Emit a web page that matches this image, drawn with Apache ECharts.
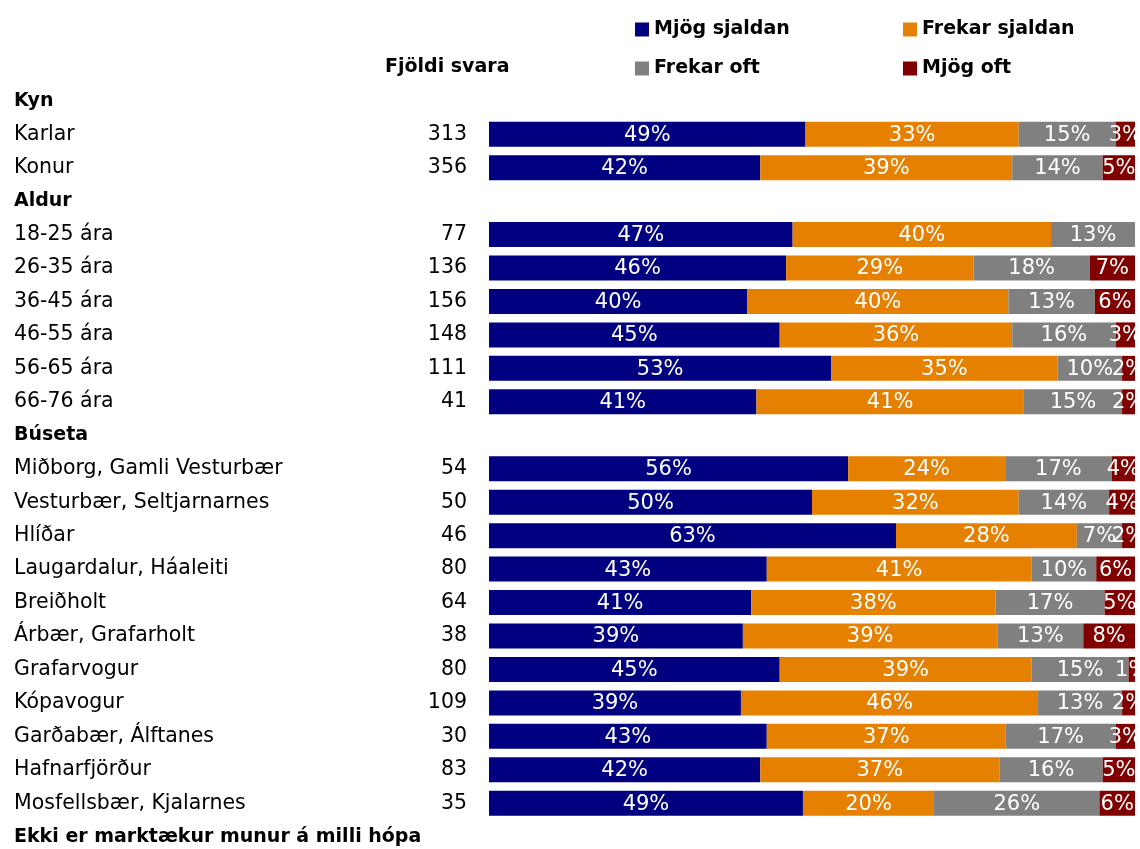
<!DOCTYPE html>
<html>
<head>
<meta charset="utf-8">
<script src="https://cdn.jsdelivr.net/npm/echarts@6/dist/echarts.min.js"></script>
<style>
  html, body { margin: 0; padding: 0; background: #fff; }
  #chart { width: 1140px; height: 849px; }
</style>
</head>
<body>
<div id="chart"></div>
<script>
/* data */
var categories = ['Kyn', 'Karlar', 'Konur', 'Aldur', '18-25 ára', '26-35 ára', '36-45 ára', '46-55 ára',
  '56-65 ára', '66-76 ára', 'Búseta', 'Miðborg, Gamli Vesturbær', 'Vesturbær, Seltjarnarnes', 'Hlíðar',
  'Laugardalur, Háaleiti', 'Breiðholt', 'Árbær, Grafarholt', 'Grafarvogur', 'Kópavogur',
  'Garðabær, Álftanes', 'Hafnarfjörður', 'Mosfellsbær, Kjalarnes'];
var headers = ['Kyn', 'Aldur', 'Búseta'];
var counts = [null, 313, 356, null, 77, 136, 156, 148, 111, 41, null, 54, 50, 46, 80, 64, 38, 80, 109, 30, 83, 35];

var mjogSjaldan   = [null, 49, 42, null, 47, 46, 40.0, 45, 53, 41.4, null, 55.6, 50, 63, 43, 40.6, 39.3, 45, 39, 43, 42, 48.6];
var frekarSjaldan = [null, 33, 39, null, 40, 29, 40.4, 36, 35, 41.4, null, 24.3, 32, 28, 41, 37.8, 39.4, 39, 46, 37, 37, 20.3];
var frekarOft     = [null, 15, 14, null, 13, 18, 13.4, 16, 10, 15.2, null, 16.5, 14, 7, 10, 16.9, 13.3, 15, 13, 17, 16, 25.6];
var mjogOft       = [null, 3, 5, null, null, 7, 6.2, 3, 2, 2.0, null, 3.6, 4, 2, 6, 4.7, 8.0, 1, 2, 3, 5, 5.5];

var seriesNames = ['Mjög sjaldan', 'Frekar sjaldan', 'Frekar oft', 'Mjög oft'];
var seriesColors = ['#000080', '#e68000', '#808080', '#800000'];
var seriesData = [mjogSjaldan, frekarSjaldan, frekarOft, mjogOft];

var FONT = 'DejaVu Sans';

var series = seriesData.map(function (d, i) {
  return {
    name: seriesNames[i],
    type: 'bar',
    stack: 'total',
    barWidth: 25,
    data: d,
    itemStyle: { color: seriesColors[i] },
    label: {
      show: true,
      position: 'inside',
      offset: [0, 1],
      color: '#fff',
      fontFamily: FONT,
      fontSize: 21,
      formatter: function (p) { return p.value == null ? '' : Math.round(p.value) + '%'; }
    },
    emphasis: { disabled: true }
  };
});

var boldText = { fontFamily: FONT, fontSize: 19, fontWeight: 'bold', color: '#000' };

var option = {
  animation: false,
  textStyle: { fontFamily: FONT },
  title: [{
    text: 'Fjöldi svara',
    left: 385, top: 58, padding: 0,
    textStyle: boldText
  }, {
    text: 'Ekki er marktækur munur á milli hópa',
    left: 14, top: 828, padding: 0,
    textStyle: boldText
  }],
  legend: [{
    data: ['Mjög sjaldan', 'Frekar oft'],
    orient: 'vertical',
    left: 635, top: 20, padding: 0,
    itemWidth: 14, itemHeight: 14, itemGap: 20,
    icon: 'rect',
    textStyle: boldText
  }, {
    data: ['Frekar sjaldan', 'Mjög oft'],
    orient: 'vertical',
    left: 903, top: 20, padding: 0,
    itemWidth: 14, itemHeight: 14, itemGap: 20,
    icon: 'rect',
    textStyle: boldText
  }],
  grid: { left: 489, right: 5, top: 84, bottom: 29, containLabel: false },
  xAxis: { type: 'value', min: 0, max: 100, show: false },
  yAxis: [{
    type: 'category',
    inverse: true,
    data: categories,
    axisLine: { show: false },
    axisTick: { show: false },
    axisLabel: {
      align: 'left',
      margin: 475,
      fontFamily: FONT,
      fontSize: 20.5,
      color: '#000',
      formatter: function (v) { return headers.indexOf(v) >= 0 ? '{b|' + v + '}' : v; },
      rich: { b: boldText }
    }
  }, {
    type: 'category',
    inverse: true,
    position: 'left',
    data: categories,
    axisLine: { show: false },
    axisTick: { show: false },
    axisLabel: {
      margin: 22,
      fontFamily: FONT,
      fontSize: 20.5,
      color: '#000',
      formatter: function (v, idx) { return counts[idx] == null ? '' : String(counts[idx]); }
    }
  }],
  series: series
};

var chart = echarts.init(document.getElementById('chart'));
chart.setOption(option);
</script>
</body>
</html>
